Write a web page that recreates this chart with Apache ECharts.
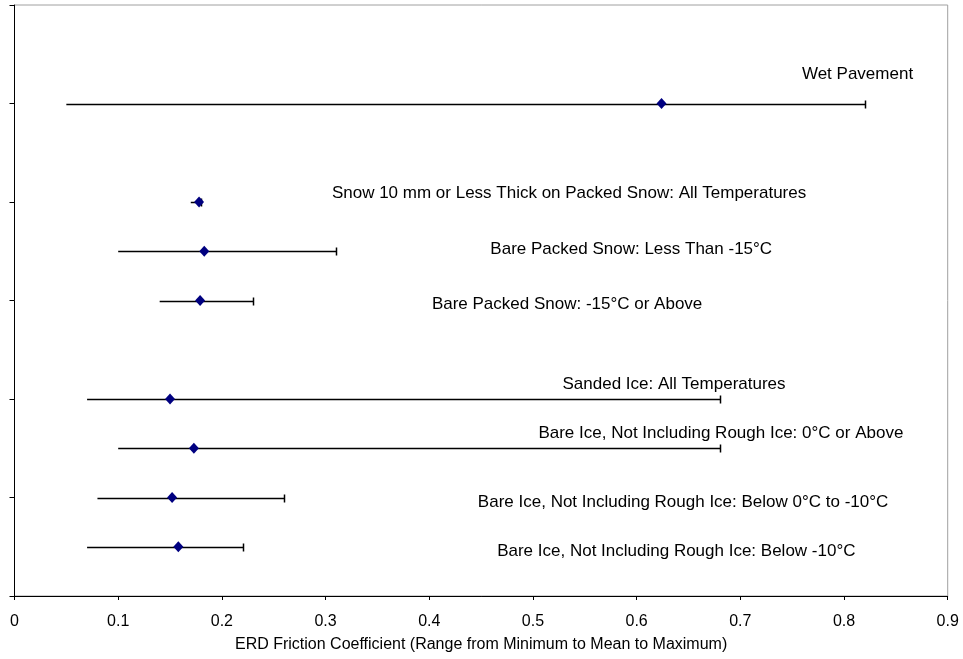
<!DOCTYPE html>
<html>
<head>
<meta charset="utf-8">
<script src="https://cdn.jsdelivr.net/npm/echarts@6/dist/echarts.min.js"></script>
<style>
  html, body { margin: 0; padding: 0; background: #ffffff; }
  #chart { width: 963px; height: 659px; }
</style>
</head>
<body>
<div id="chart"></div>
<script>
// Road surface categories and their ERD friction coefficients
const surfaces = [
  'Wet Pavement',
  'Snow 10 mm or Less Thick on Packed Snow: All Temperatures',
  'Bare Packed Snow: Less Than -15°C',
  'Bare Packed Snow: -15°C or Above',
  'Sanded Ice: All Temperatures',
  'Bare Ice, Not Including Rough Ice: 0°C or Above',
  'Bare Ice, Not Including Rough Ice: Below 0°C to -10°C',
  'Bare Ice, Not Including Rough Ice: Below -10°C'
];
const rowLevel = [5, 4, 3.5, 3, 2, 1.5, 1, 0.5];
const minimum  = [0.05, 0.17, 0.10, 0.14, 0.07, 0.10, 0.08, 0.07];
const mean     = [0.624, 0.178, 0.183, 0.179, 0.150, 0.173, 0.152, 0.158];
const maximum  = [0.82, 0.18, 0.31, 0.23, 0.68, 0.68, 0.26, 0.22];
const xTicks   = [0, 0.1, 0.2, 0.3, 0.4, 0.5, 0.6, 0.7, 0.8, 0.9];

// Pixel offsets of each caption from its mean marker
const captionOffset = [
  [196, -29], [370, -9], [427, -2], [367, 4],
  [504, -15], [527, -15], [511, 5], [498, 5]
];

const FONT = '"Liberation Sans", Arial, sans-serif';

const rangeData = surfaces.map((s, i) => [minimum[i], maximum[i], rowLevel[i]]);
const meanData = surfaces.map((s, i) => ({
  value: [mean[i], rowLevel[i]],
  name: s,
  label: { offset: captionOffset[i] }
}));

const chart = echarts.init(document.getElementById('chart'), null, { renderer: 'canvas' });

chart.setOption({
  animation: false,
  backgroundColor: '#ffffff',
  grid: {
    left: 14.5, right: 15.3, top: 5, bottom: 63,
    show: true, borderColor: '#a0a0a0', borderWidth: 1, backgroundColor: 'transparent'
  },
  xAxis: {
    type: 'value',
    min: 0, max: 0.9, interval: 0.1,
    name: 'ERD Friction Coefficient (Range from Minimum to Mean to Maximum)',
    nameLocation: 'middle',
    nameGap: 41,
    nameTextStyle: { fontFamily: FONT, fontSize: 16, color: '#000' },
    axisLine: { lineStyle: { color: '#000', width: 1 } },
    axisTick: { show: true, inside: false, length: 4, lineStyle: { color: '#000' } },
    axisLabel: {
      fontFamily: FONT, fontSize: 16, color: '#000', margin: 18,
      formatter: v => {
        const t = xTicks.find(k => Math.abs(k - v) < 1e-9);
        return t === undefined ? '' : String(t);
      }
    },
    splitLine: { show: false }
  },
  yAxis: {
    type: 'value',
    min: 0, max: 6, interval: 1,
    axisLine: { show: true, lineStyle: { color: '#000', width: 1 } },
    axisTick: { show: true, inside: false, length: 5, lineStyle: { color: '#000' } },
    axisLabel: { show: false },
    splitLine: { show: false }
  },
  series: [
    {
      // Range line from minimum to maximum, capped at the maximum
      type: 'custom',
      data: rangeData,
      encode: { x: [0, 1], y: 2 },
      renderItem: (params, api) => {
        const a = api.coord([api.value(0), api.value(2)]);
        const b = api.coord([api.value(1), api.value(2)]);
        const y = Math.round(a[1]) + 0.5;
        const xe = Math.round(b[0]) + 0.5;
        const style = { stroke: '#000', lineWidth: 1.5, fill: null };
        return {
          type: 'group',
          children: [
            { type: 'line', shape: { x1: a[0], y1: y, x2: xe, y2: y }, style },
            { type: 'line', shape: { x1: xe, y1: y - 4, x2: xe, y2: y + 4 }, style }
          ]
        };
      },
      z: 2
    },
    {
      type: 'scatter',
      data: meanData,
      symbol: 'diamond',
      symbolSize: [10, 11],
      itemStyle: { color: '#000080', opacity: 1 },
      label: {
        show: true,
        position: 'inside',
        formatter: p => p.name,
        fontFamily: FONT,
        fontSize: 17,
        color: '#000'
      },
      z: 3
    }
  ]
});
</script>
</body>
</html>
